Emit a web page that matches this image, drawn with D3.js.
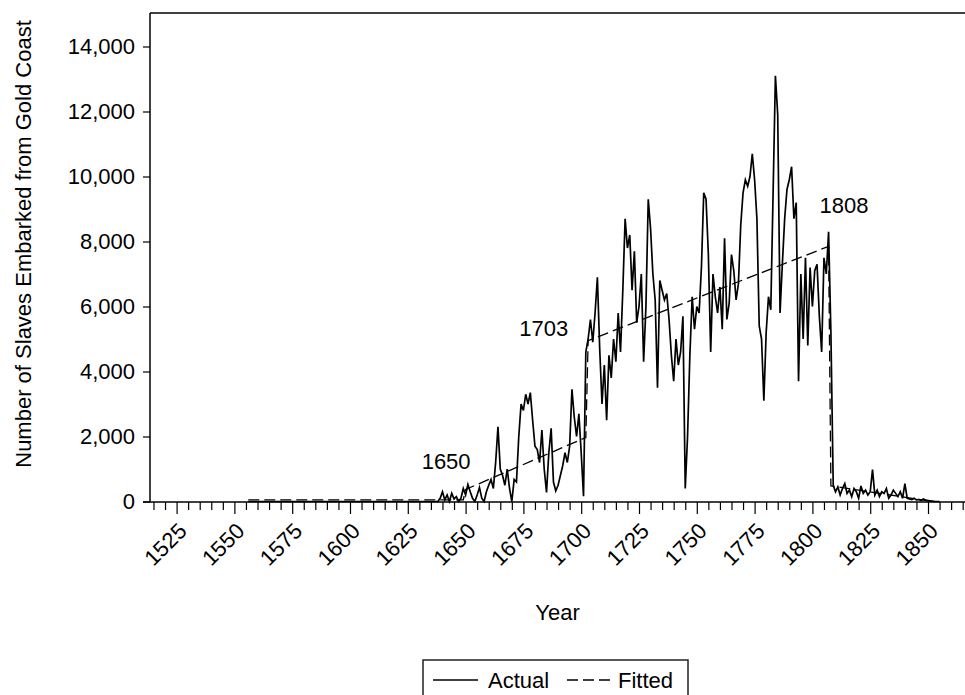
<!DOCTYPE html>
<html>
<head>
<meta charset="utf-8">
<script src="https://d3js.org/d3.v7.min.js"></script>
<style>
  body { margin: 0; background: #fff; }
  svg text { font-family: "Liberation Sans", Arial, sans-serif; font-size: 22px; fill: #000; }
</style>
</head>
<body>
<script>
    // actual series, one value per year from startYear
    let startYear = 1556;
    let actual = [
        0, 0, 0, 0,                                              // 1556-1559
        0, 0, 0, 0, 0, 0, 0, 0, 0, 0,                            // 1560s
        0, 0, 0, 0, 0, 0, 0, 0, 0, 0,                            // 1570s
        0, 0, 0, 0, 0, 0, 0, 0, 0, 0,                            // 1580s
        0, 0, 0, 0, 0, 0, 0, 0, 0, 0,                            // 1590s
        0, 0, 0, 0, 0, 0, 0, 0, 0, 0,                            // 1600s
        0, 0, 0, 0, 0, 0, 0, 0, 0, 0,                            // 1610s
        0, 0, 0, 0, 0, 0, 0, 0, 0, 0,                            // 1620s
        0, 0, 0, 0, 0, 0, 0, 0, 0, 100,                          // 1630s
        300, 50, 200, 0, 250, 80, 150, 0, 100, 400,              // 1640s
        200, 520, 300, 100, 0, 200, 430, 100, 0, 300,            // 1650s
        500, 680, 400, 1200, 2300, 1000, 800, 500, 1000, 400,    // 1660s
        0, 680, 600, 2000, 3000, 2800, 3300, 3000, 3350, 2500,   // 1670s
        1700, 1600, 1200, 2200, 1000, 280, 1500, 2250, 600, 330, // 1680s
        500, 800, 1100, 1500, 1200, 1700, 3450, 2600, 2000, 2700,// 1690s
        1500, 160, 4600, 5000, 5600, 4900, 5800, 6900, 4700, 3000,   // 1700s
        4200, 2500, 4500, 3800, 5000, 4300, 5800, 4600, 6500, 8700,  // 1710s
        7800, 8200, 6500, 7700, 5500, 6000, 7000, 4300, 6000, 9300,  // 1720s
        8400, 7000, 6200, 3500, 6800, 6500, 6200, 6400, 5600, 4500,  // 1730s
        3700, 5000, 4200, 4600, 5700, 400, 2000, 4500, 6300, 5300,   // 1740s
        6000, 5800, 7200, 9500, 9300, 7600, 4600, 7000, 6300, 5800,  // 1750s
        6600, 5300, 8100, 5600, 6100, 7600, 7100, 6200, 6700, 8500,  // 1760s
        9500, 9900, 9700, 10000, 10700, 9900, 8700, 5400, 5000, 3100,// 1770s
        5200, 6300, 5900, 9500, 13100, 11900, 5800, 7300, 8700, 9600,// 1780s
        9900, 10300, 8700, 9200, 3700, 7000, 5000, 7500, 4800, 7200, // 1790s
        6000, 7100, 7300, 5700, 4600, 7500, 7000, 8300, 5200, 500,   // 1800s
        300, 450, 200, 400, 550, 250, 350, 150, 400, 300,        // 1810s
        100, 480, 250, 350, 200, 300, 980, 200, 350, 150,        // 1820s
        300, 250, 400, 100, 200, 350, 250, 150, 300, 100,        // 1830s
        550, 100, 80, 60, 100, 50, 60, 30, 80, 40,               // 1840s
        30, 20, 10, 0, 0, 0                                      // 1850-1855
    ];

    // fitted segments (break points)
    let fittedYears  = [1556, 1649, 1650, 1702, 1703, 1807, 1808, 1852];
    let fittedValues = [50,   50,   370,  1970, 4950, 7850, 480,  0];

    let breakYears  = [1650, 1703, 1808];
    let breakLevels = [985, 5080, 8890];

    let yTicks = [0, 2000, 4000, 6000, 8000, 10000, 12000, 14000];
    let xTicks = [1525, 1550, 1575, 1600, 1625, 1650, 1675, 1700, 1725, 1750, 1775, 1800, 1825, 1850];

    let width = 965;
    let height = 695;
    let plotLeft = 150, plotTop = 13, plotBottom = 502, plotRight = 965;

    let svg = d3.select("body").append("svg")
        .attr("width", width)
        .attr("height", height);

    let x = d3.scaleLinear().domain([1513.5, 1866]).range([plotLeft, plotRight]);
    let y = d3.scaleLinear().domain([0, 14000]).range([501.5, 46.5]);

    let actualData = actual.map((v, i) => ({year: startYear + i, value: v}));
    let fittedData = fittedYears.map((yr, i) => ({year: yr, value: fittedValues[i]}));

    let line = d3.line()
        .x(d => x(d.year))
        .y(d => y(d.value));

    // lines first, axes drawn over them
    svg.append("path")
        .datum(actualData)
        .attr("d", line)
        .attr("fill", "none")
        .attr("stroke", "#000")
        .attr("stroke-width", 1.7);

    svg.append("path")
        .datum(fittedData)
        .attr("d", line)
        .attr("fill", "none")
        .attr("stroke", "#000")
        .attr("stroke-width", 1.3)
        .attr("stroke-dasharray", "11,5");

    // frame: top line
    svg.append("line")
        .attr("x1", plotLeft).attr("x2", plotRight)
        .attr("y1", plotTop).attr("y2", plotTop)
        .attr("stroke", "#000").attr("stroke-width", 1.3);

    // y axis
    let yAxis = svg.append("g")
        .attr("transform", `translate(${plotLeft},0)`)
        .call(d3.axisLeft(y).tickValues(yTicks).tickSize(7).tickPadding(8).tickFormat(d3.format(",")));
    yAxis.select(".domain").remove();
    yAxis.selectAll(".tick line").attr("stroke", "#000").attr("stroke-width", 1.2);
    yAxis.selectAll("text").style("font-size", "22px").attr("fill", "#000");
    svg.append("line")
        .attr("x1", plotLeft).attr("x2", plotLeft)
        .attr("y1", plotTop).attr("y2", plotBottom)
        .attr("stroke", "#000").attr("stroke-width", 1.5);

    // x axis: minor ticks every 5 years, major every 25
    let minorTicks = d3.range(1515, 1866, 5).filter(d => xTicks.indexOf(d) < 0);
    let xMinor = svg.append("g")
        .attr("transform", `translate(0,${plotBottom})`)
        .call(d3.axisBottom(x).tickValues(minorTicks).tickSize(8).tickFormat(""));
    xMinor.select(".domain").remove();
    xMinor.selectAll(".tick line").attr("stroke", "#000").attr("stroke-width", 1.2);

    let xMajor = svg.append("g")
        .attr("transform", `translate(0,${plotBottom})`)
        .call(d3.axisBottom(x).tickValues(xTicks).tickSize(12).tickFormat(""));
    xMajor.select(".domain").remove();
    xMajor.selectAll(".tick line").attr("stroke", "#000").attr("stroke-width", 1.2);

    svg.append("line")
        .attr("x1", plotLeft - 7).attr("x2", plotRight)
        .attr("y1", plotBottom).attr("y2", plotBottom)
        .attr("stroke", "#000").attr("stroke-width", 1.5);

    svg.selectAll(".xlabel")
        .data(xTicks)
        .join("text")
        .attr("class", "xlabel")
        .attr("text-anchor", "end")
        .attr("dy", "0.35em")
        .attr("transform", d => `translate(${x(d) + 6},527) rotate(-45)`)
        .text(d => d);

    // axis titles
    svg.append("text")
        .attr("x", (plotLeft + plotRight) / 2)
        .attr("y", 620)
        .attr("text-anchor", "middle")
        .text("Year");

    svg.append("text")
        .attr("transform", "translate(31,244) rotate(-90)")
        .attr("text-anchor", "middle")
        .text("Number of Slaves Embarked from Gold Coast");

    // break year labels
    let labelDx = [5, -20, 13];
    let labelAnchor = ["end", "end", "middle"];
    svg.selectAll(".breaklabel")
        .data(breakYears)
        .join("text")
        .attr("class", "breaklabel")
        .attr("x", (d, i) => x(d) + labelDx[i])
        .attr("y", (d, i) => y(breakLevels[i]))
        .attr("text-anchor", (d, i) => labelAnchor[i])
        .text(d => d);

    // legend
    let legend = svg.append("g");
    legend.append("rect")
        .attr("x", 423).attr("y", 660)
        .attr("width", 265).attr("height", 45)
        .attr("fill", "none")
        .attr("stroke", "#222")
        .attr("stroke-width", 1.5);
    legend.append("line")
        .attr("x1", 433).attr("x2", 478)
        .attr("y1", 680).attr("y2", 680)
        .attr("stroke", "#000").attr("stroke-width", 1.5);
    legend.append("text").attr("x", 488).attr("y", 688).text("Actual");
    legend.append("line")
        .attr("x1", 567).attr("x2", 613)
        .attr("y1", 680).attr("y2", 680)
        .attr("stroke", "#000").attr("stroke-width", 1.4)
        .attr("stroke-dasharray", "11,5");
    legend.append("text").attr("x", 618).attr("y", 688).text("Fitted");
</script>
</body>
</html>
